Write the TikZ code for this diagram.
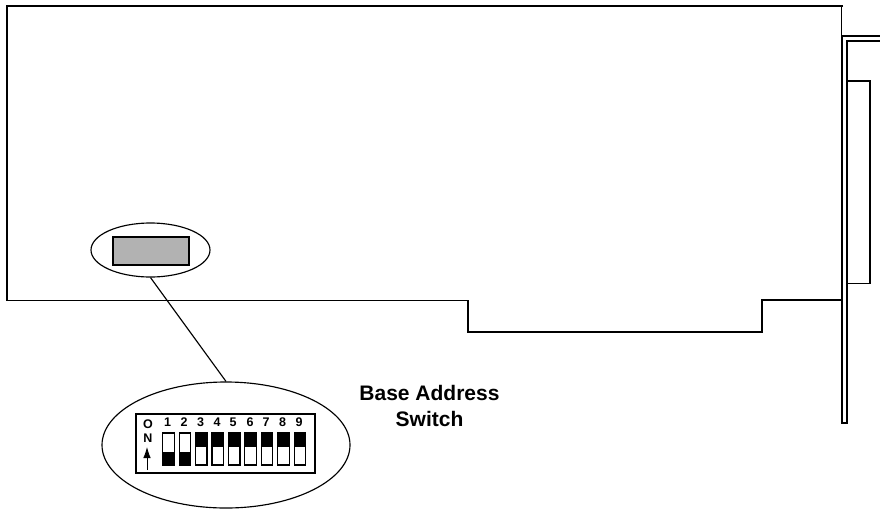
\documentclass[tikz,border=0pt]{standalone}
\usepackage{fontspec}
\setmainfont{Liberation Sans}
\usetikzlibrary{shapes.geometric,arrows.meta}
\definecolor{chipgray}{gray}{0.7}
\tikzset{
  levernode/.style={draw,rectangle,line width=1.2pt,inner sep=0pt,minimum width=11.5pt,minimum height=32pt},
  leverup/.style={levernode,path picture={\fill[black] (path picture bounding box.north west) rectangle ([yshift=2pt]path picture bounding box.east);}},
  leverdown/.style={levernode,path picture={\fill[black] (path picture bounding box.south east) rectangle ([yshift=-3pt]path picture bounding box.west);}},
  digit/.style={font=\bfseries\fontsize{12.5}{12.5}\selectfont,inner sep=0pt}
}
\begin{document}
\begin{tikzpicture}[x=1pt,y=-1pt,line width=1.15pt]
      \useasboundingbox (0,0) rectangle (880,509);

      % card
      \draw (843,6) -- (7,6) -- (7,300.5) -- (468,300.5) -- (468,332) -- (762,332) -- (762,300) -- (842,300);
      \draw (841.5,6) -- (841.5,36);

      % bracket
      \draw (880,36) -- (842,36) -- (842,423) -- (847,423) -- (847,41) -- (880,41);
      \draw (848,81) -- (870,81) -- (870,283.5) -- (848,283.5);

      % switch on the card
      \node[draw,ellipse,inner sep=0pt,minimum width=119pt,minimum height=54pt] (chipring) at (150.5,250) {};
      \node[draw,rectangle,fill=chipgray,inner sep=0pt,minimum width=76pt,minimum height=28pt] (chip) at (151,251) {};

      % enlarged switch
      \node[draw,ellipse,inner sep=0pt,minimum width=248pt,minimum height=126pt] (dipring) at (226,445) {};
      \node[draw,rectangle,inner sep=0pt,minimum width=179pt,minimum height=59pt] (dipbox) at (225.5,443.5) {};
      \draw (chipring.south) -- (dipring.north);

      \begin{scope}[every node/.style={digit}]
        \node (o) at (148,424) {O};
        \node (n) at (148,438) {N};
        \node (d1) at (167.5,422.5) {1};
        \node (d2) at (184,422.5) {2};
        \node (d3) at (200.5,422.5) {3};
        \node (d4) at (217,422.5) {4};
        \node (d5) at (233,422.5) {5};
        \node (d6) at (250,422.5) {6};
        \node (d7) at (266,422.5) {7};
        \node (d8) at (282.5,422.5) {8};
        \node (d9) at (299,422.5) {9};
      \end{scope}

      \coordinate (arrowfoot) at (147,470);
      \coordinate (arrowhead) at (147,447);
      \draw[line width=0.8pt,-{Latex[length=11pt,width=7.5pt]}] (arrowfoot) -- (arrowhead);

      \node[leverdown] (s1) at (168.4,449) {};
      \node[leverdown] (s2) at (184.9,449) {};
      \node[leverup] (s3) at (201.3,449) {};
      \node[leverup] (s4) at (217.8,449) {};
      \node[leverup] (s5) at (234.2,449) {};
      \node[leverup] (s6) at (250.6,449) {};
      \node[leverup] (s7) at (267.1,449) {};
      \node[leverup] (s8) at (283.5,449) {};
      \node[leverup] (s9) at (300,449) {};

      \node[font=\bfseries\fontsize{21}{26}\selectfont,align=center,inner sep=0pt] (title) at (429.5,406) {Base Address\\Switch};

\end{tikzpicture}
\end{document}
